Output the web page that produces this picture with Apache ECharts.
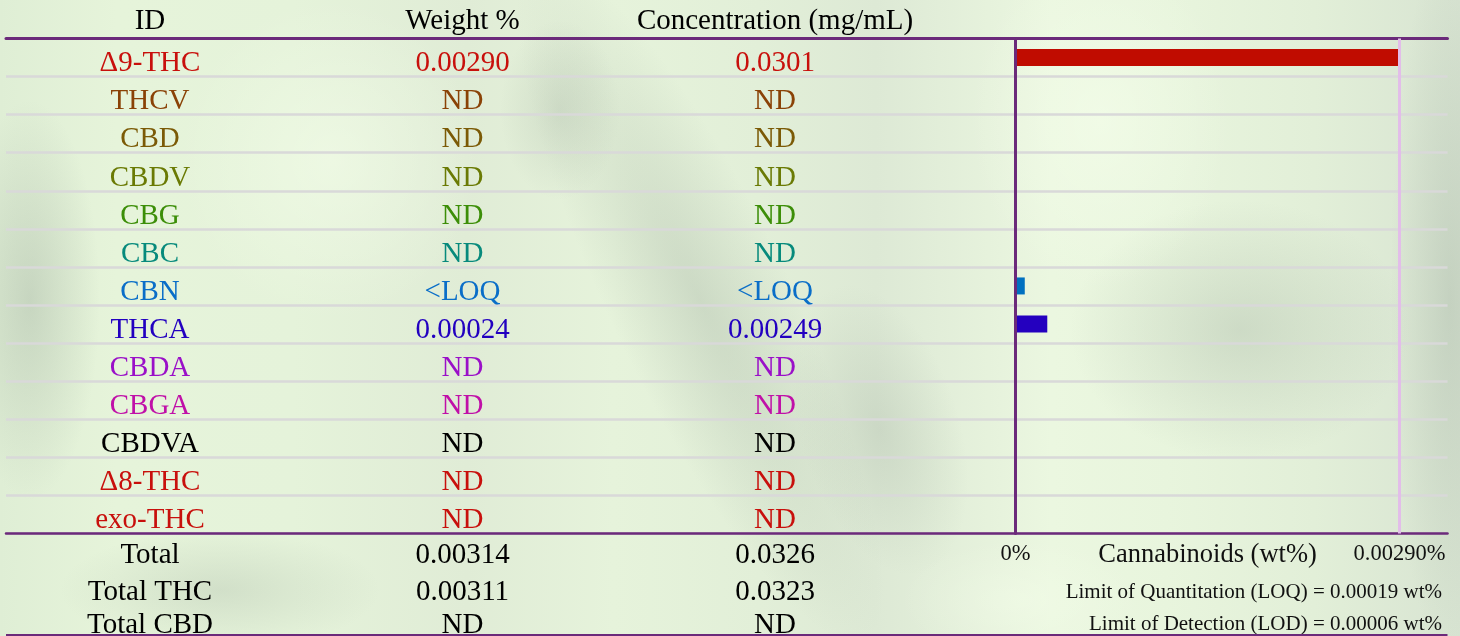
<!DOCTYPE html>
<html><head><meta charset="utf-8">
<script src="https://cdn.jsdelivr.net/npm/echarts/dist/echarts.min.js"></script>
<style>html,body{margin:0;padding:0;width:1460px;height:636px;overflow:hidden}#c{width:1460px;height:636px}</style>
</head><body><div id="c"></div>
<script>
// ---- data ----
const ids = ['Δ9-THC','THCV','CBD','CBDV','CBG','CBC','CBN','THCA','CBDA','CBGA','CBDVA','Δ8-THC','exo-THC'];
const weightPct = ['0.00290','ND','ND','ND','ND','ND','<LOQ','0.00024','ND','ND','ND','ND','ND'];
const concMgMl = ['0.0301','ND','ND','ND','ND','ND','<LOQ','0.00249','ND','ND','ND','ND','ND'];
const barValues = [0.00290,0,0,0,0,0,0.00007,0.00024,0,0,0,0,0];
const rowColors = ['#c8100c','#8a4206','#7b5a06','#6a7a04','#3c8e08','#078a7c','#0a6ec8','#2200c0','#9a10c8','#c010a8','#000000','#c8100c','#c8100c'];
const barColors = ['#c00c00','#8a4206','#7b5a06','#6a7a04','#3c8e08','#078a7c','#0070c0','#2400bf','#9a10c8','#c010a8','#000000','#c00c00','#c00c00'];
const headers = ['ID','Weight %','Concentration (mg/mL)'];
const totalLabels = ['Total','Total THC','Total CBD'];
const totalWeight = ['0.00314','0.00311','ND'];
const totalConc = ['0.0326','0.0323','ND'];
const axisTickLabels = ['0%','0.00290%'];
const axisMax = 0.00290;
const axisTitle = 'Cannabinoids (wt%)';
const notes = ['Limit of Quantitation (LOQ) = 0.00019 wt%','Limit of Detection (LOD) = 0.00006 wt%'];

// ---- layout ----
const W = 1460, H = 636;
const SERIF = '"Liberation Serif","Times New Roman",serif';
const FS = 29;
const colX = [150, 462.5, 775];
const tLeft = 6, tRight = 1447.5, tTop = 38.5, tBottom = 533.4;
const purple = '#6b2a7a';

const chart = echarts.init(document.getElementById('c'), null, {renderer:'canvas'});

const graphics = [];
// soft background shading (decorative, behind everything)
function patch(x, y, sx, sy, rot, a, dark){
  const c = dark ? '150,165,150' : '246,255,236';
  graphics.push({type:'circle', z:-100, silent:true, x:x, y:y, scaleX:sx, scaleY:sy, rotation:rot,
    shape:{cx:0, cy:0, r:1},
    style:{fill:{type:'radial', x:0.5, y:0.5, r:0.5, colorStops:[
      {offset:0, color:'rgba('+c+','+a+')'},{offset:1, color:'rgba('+c+',0)'}]}}});
}
patch(30, 300, 70, 200, 0, 0.35, true);
patch(700, 300, 90, 380, 0.45, 0.3, true);
patch(560, 110, 60, 90, 0, 0.25, true);
patch(1240, 330, 170, 130, 0, 0.3, true);
patch(1450, 300, 60, 360, 0, 0.3, true);
patch(880, 430, 80, 150, 0.3, 0.25, true);
patch(220, 590, 160, 60, 0, 0.25, true);
patch(330, 160, 150, 160, 0, 0.5, false);
patch(1100, 120, 130, 170, 0, 0.55, false);
patch(1020, 600, 120, 60, 0, 0.4, false);

headers.forEach((h,i)=>graphics.push({type:'text', z:10, style:{text:h, x:colX[i], y:21.2, align:'center', verticalAlign:'middle', font:FS+'px '+SERIF, fill:'#000'}}));
const totYs = [555.5, 592, 625];
totalLabels.forEach((t,i)=>{
  [t, totalWeight[i], totalConc[i]].forEach((s,j)=>graphics.push({type:'text', z:10, style:{text:s, x:colX[j], y:totYs[i], align:'center', verticalAlign:'middle', font:FS+'px '+SERIF, fill:'#000'}}));
});
const noteYs = [592, 624];
notes.forEach((n,i)=>graphics.push({type:'text', z:10, style:{text:n, x:1442, y:noteYs[i], align:'right', verticalAlign:'middle', font:'21px '+SERIF, fill:'#111'}}));
graphics.push({type:'line', z:10, shape:{x1:tLeft, y1:635, x2:tRight, y2:635}, style:{stroke:purple, lineWidth:2}});

function labelAxis(idx, offsetX, fmt, split){
  return {
    type:'category', gridIndex:0, inverse:true, data:ids, position:'left',
    offset: -(offsetX - tLeft),
    axisLine:{show:false}, axisTick:{show:false},
    axisLabel:{show:true, margin:0, align:'center', verticalAlign:'top', lineHeight:12.4, fontSize:FS, fontFamily:SERIF,
      formatter: fmt, color: (v, i) => rowColors[ids.indexOf(v)]},
    splitLine:{show:split, lineStyle:{color:'#d9d9d9', width:2.7}}
  };
}

const option = {
  animation:false,
  backgroundColor:{type:'linear', x:0, y:0, x2:1, y2:0, colorStops:[
    {offset:0, color:'#dfeed5'},{offset:0.08, color:'#e6f4da'},{offset:0.2, color:'#e5f3da'},
    {offset:0.32, color:'#e0ecd6'},{offset:0.42, color:'#e6f3db'},{offset:0.52, color:'#e2efd8'},
    {offset:0.6, color:'#dde9d5'},{offset:0.72, color:'#ebf7e0'},{offset:0.8, color:'#e8f5dd'},
    {offset:0.9, color:'#e2efd8'},{offset:1, color:'#d8e4d2'}]},
  grid:[
    {left:tLeft, right:W-tRight, top:tTop, bottom:H-tBottom, outerBoundsMode:'none'},
    {left:1015.5, right:W-1399.5, top:tTop, bottom:H-tBottom, outerBoundsMode:'none'}
  ],
  xAxis:[
    {type:'value', gridIndex:0, position:'top', min:0, max:1, axisLine:{show:true, onZero:false, lineStyle:{color:purple, width:3}}, axisTick:{show:false}, axisLabel:{show:false}, splitLine:{show:false}},
    {type:'value', gridIndex:0, position:'bottom', min:0, max:1, axisLine:{show:true, onZero:false, lineStyle:{color:purple, width:2.5}}, axisTick:{show:false}, axisLabel:{show:false}, splitLine:{show:false}},
    {type:'value', gridIndex:1, position:'bottom', min:0, max:axisMax, interval:axisMax, z:5,
      axisLine:{show:false}, axisTick:{show:false},
      splitLine:{show:true, lineStyle:{color:'#e2bde9', width:3}},
      axisLabel:{show:true, margin:9.5, fontSize:22.5, fontFamily:SERIF, color:'#111',
        formatter:(v)=> v===0 ? axisTickLabels[0] : axisTickLabels[1]},
      name:axisTitle, nameLocation:'middle', nameGap:8.5, nameMoveOverlap:false,
      nameTextStyle:{fontSize:26.5, fontFamily:SERIF, color:'#111', verticalAlign:'top'}}
  ],
  yAxis:[
    labelAxis(0, colX[0], (v,i)=>ids[i], true),
    labelAxis(1, colX[1], (v,i)=>weightPct[i], false),
    labelAxis(2, colX[2], (v,i)=>concMgMl[i], false),
    {type:'category', gridIndex:1, inverse:true, data:ids, z:6,
      axisLine:{show:true, lineStyle:{color:purple, width:3}}, axisTick:{show:false}, axisLabel:{show:false}, splitLine:{show:false}}
  ],
  series:[{
    type:'bar', xAxisIndex:2, yAxisIndex:3, barWidth:17, z:2,
    data: barValues.map((v,i)=>({value:v, itemStyle:{color:barColors[i]}}))
  }],
  graphic: graphics
};
chart.setOption(option);
</script></body></html>
